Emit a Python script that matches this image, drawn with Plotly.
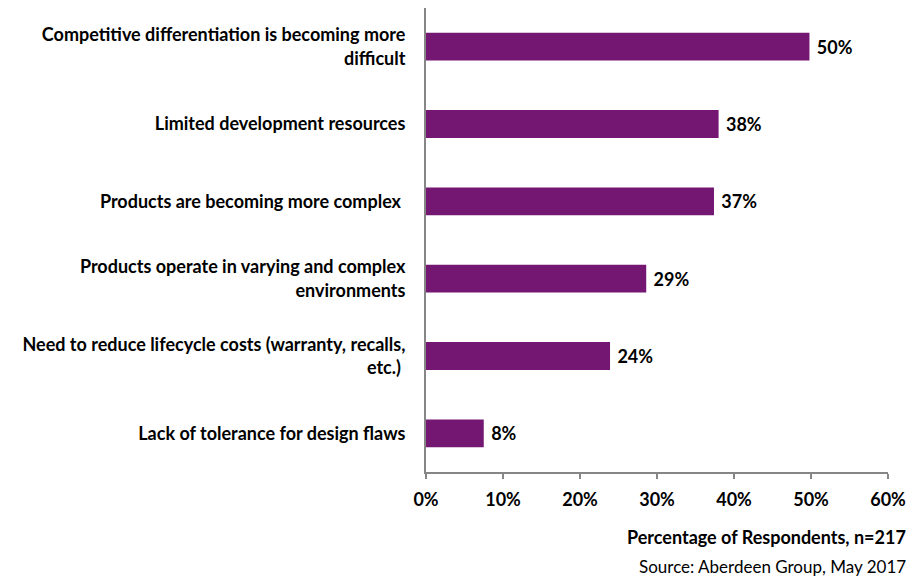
import plotly.graph_objects as go

categories = [
    "Competitive differentiation is becoming more<br>difficult",
    "Limited development resources",
    "Products are becoming more complex\u00a0",
    "Products operate in varying and complex<br>environments",
    "Need to reduce lifecycle costs (warranty, recalls,<br>etc.)\u00a0",
    "Lack of tolerance for design flaws",
]
values = [49.8, 38.0, 37.4, 28.6, 23.9, 7.5]
tick_vals = [0, 10, 20, 30, 40, 50, 60]
tick_text = ["0%", "10%", "20%", "30%", "40%", "50%", "60%"]

FONT = "Lato"
SIZE = 18
fig = go.Figure(go.Bar(
    y=categories, x=values, orientation="h",
    marker=dict(color="#731773", line=dict(width=0)),
    width=0.36,
    text=[f"\u00a0{round(v)}%" for v in values],
    textposition="outside",
    textfont=dict(family=FONT, size=SIZE, color="#000000", weight="bold"),
    cliponaxis=False,
))

fig.update_layout(
    width=916, height=569,
    margin=dict(l=418, r=36, t=0, b=105),
    paper_bgcolor="white", plot_bgcolor="white",
    showlegend=False,
    font=dict(family=FONT, size=SIZE, color="#000000", weight="bold"),
)
fig.update_yaxes(
    autorange="reversed",
    showline=True, linecolor="#868686", linewidth=2,
    ticks="", showgrid=False, zeroline=False,
    ticklabelstandoff=15,
    tickfont=dict(family=FONT, size=SIZE, color="#000000", weight="bold"),
)
fig.update_xaxes(
    range=[0, 60], tickvals=tick_vals, ticktext=tick_text,
    showline=True, linecolor="#868686", linewidth=1.5,
    ticks="outside", ticklen=5, tickcolor="#868686", tickwidth=1.5,
    showgrid=False, zeroline=False,
    ticklabelstandoff=6,
    tickfont=dict(family=FONT, size=SIZE, color="#000000", weight="bold"),
)
fig.add_annotation(
    text="Percentage of Respondents, n=217", xref="paper", yref="paper",
    x=1.0433, y=-0.140, xanchor="right", yanchor="middle", showarrow=False,
    font=dict(family=FONT, size=SIZE, color="#000000", weight="bold"),
)
fig.add_annotation(
    text="Source: Aberdeen Group, May 2017", xref="paper", yref="paper",
    x=1.0433, y=-0.2026, xanchor="right", yanchor="middle", showarrow=False,
    font=dict(family=FONT, size=17, color="#000000", weight="normal"),
)
fig.write_html("out.html")
